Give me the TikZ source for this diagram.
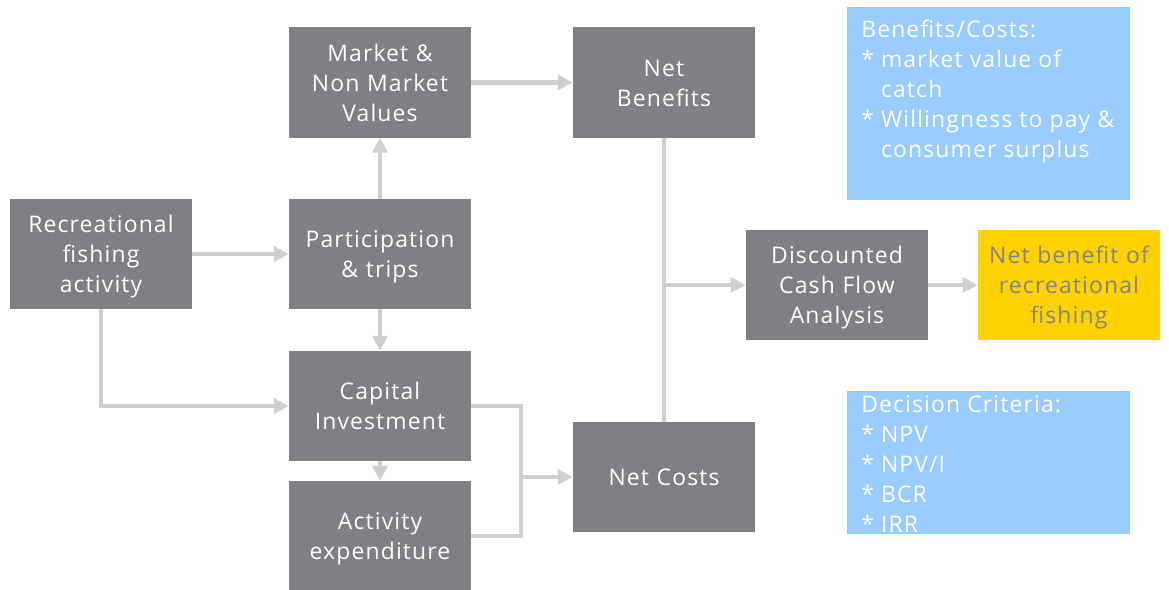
\documentclass[tikz,border=0pt]{standalone}
\usepackage{fontspec}
\setmainfont{Open Sans}[LetterSpace=5]
\usepackage{xcolor}
\usepackage{tikz}
\usetikzlibrary{arrows.meta}
\usetikzlibrary{positioning}

\definecolor{boxgray}{HTML}{807F83}
\definecolor{linkgray}{HTML}{CFCFCF}
\definecolor{skyblue}{HTML}{99CCFF}
\definecolor{eyyellow}{HTML}{FFD200}
\definecolor{labelgray}{HTML}{858585}

\newcommand{\boxfont}{\fontsize{16.3}{21.3}\selectfont}
\newcommand{\topstrut}{\rule{0pt}{19.1pt}}

\begin{document}
\begin{tikzpicture}[x=0.025cm,y=-0.025cm,
	block/.style={rectangle,fill=boxgray,text=white,minimum width=4.55cm,minimum height=2.75cm,text width=4.45cm,align=center,inner sep=0pt,font=\boxfont,
		execute at begin node=\topstrut,execute at end node=\strut},
	goal/.style={block,fill=eyyellow,text=labelgray},
	note/.style={rectangle,fill=skyblue,text=white,anchor=north west,inner xsep=0.35cm,inner ysep=0pt,font=\boxfont},
	joint/.style={draw=linkgray,line width=3.5pt},
	link/.style={joint,-{Triangle[length=10.6pt,width=10.6pt]}}]
	\useasboundingbox (0,0) rectangle (1169,590);
	% boxes
	\node[block] (rec) at (101,254) {Recreational\\fishing\\activity};
	\node[block] (market) at (380,82.5) {Market \&\\Non Market\\Values};
	\node[block] (part) at (380,254) {Participation\\\& trips};
	\node[block] (capital) at (380,406) {Capital\\Investment};
	\node[block] (activity) at (380,536) {Activity\\expenditure};
	\node[block] (benefits) at (664,82.5) {Net\\Benefits};
	\node[block] (costs) at (664,477) {Net Costs};
	\node[block] (dcf) at (837,285) {Discounted\\Cash Flow\\Analysis};
	\node[goal] (result) at (1069,285) {Net benefit of\\recreational\\fishing};
	% notes
	\node[note] (costnote) at (847,7) {\parbox[t][4.825cm][t]{6.375cm}{\rule{0pt}{0.75cm}Benefits/Costs:\\
		{*}~market value of\\
		\hphantom{*~}catch\\
		{*}~Willingness to pay \&\\
		\hphantom{*~}consumer surplus}};
	\node[note] (criteria) at (847,391) {\parbox[t][3.575cm][t]{6.375cm}{\rule{0pt}{0.525cm}Decision Criteria:\\
		{*}~NPV\\
		{*}~NPV/I\\
		{*}~BCR\\
		{*}~IRR}};
	% connectors
	\coordinate (join) at (521,477);
	\coordinate (split) at (664,285);
	\draw[link] (rec) -- (part);
	\draw[link] (part) -- (market);
	\draw[link] (part) -- (capital);
	\draw[link] (rec.south) |- (capital.west);
	\draw[link] (capital) -- (activity);
	\draw[link] (market) -- (benefits);
	\draw[joint] (capital.east) -| (join) |- (activity.east);
	\draw[link] (join) -- (costs);
	\draw[joint] (benefits) -- (costs);
	\draw[link] (split) -- (dcf);
	\draw[link] (dcf) -- (result);
\end{tikzpicture}
\end{document}
